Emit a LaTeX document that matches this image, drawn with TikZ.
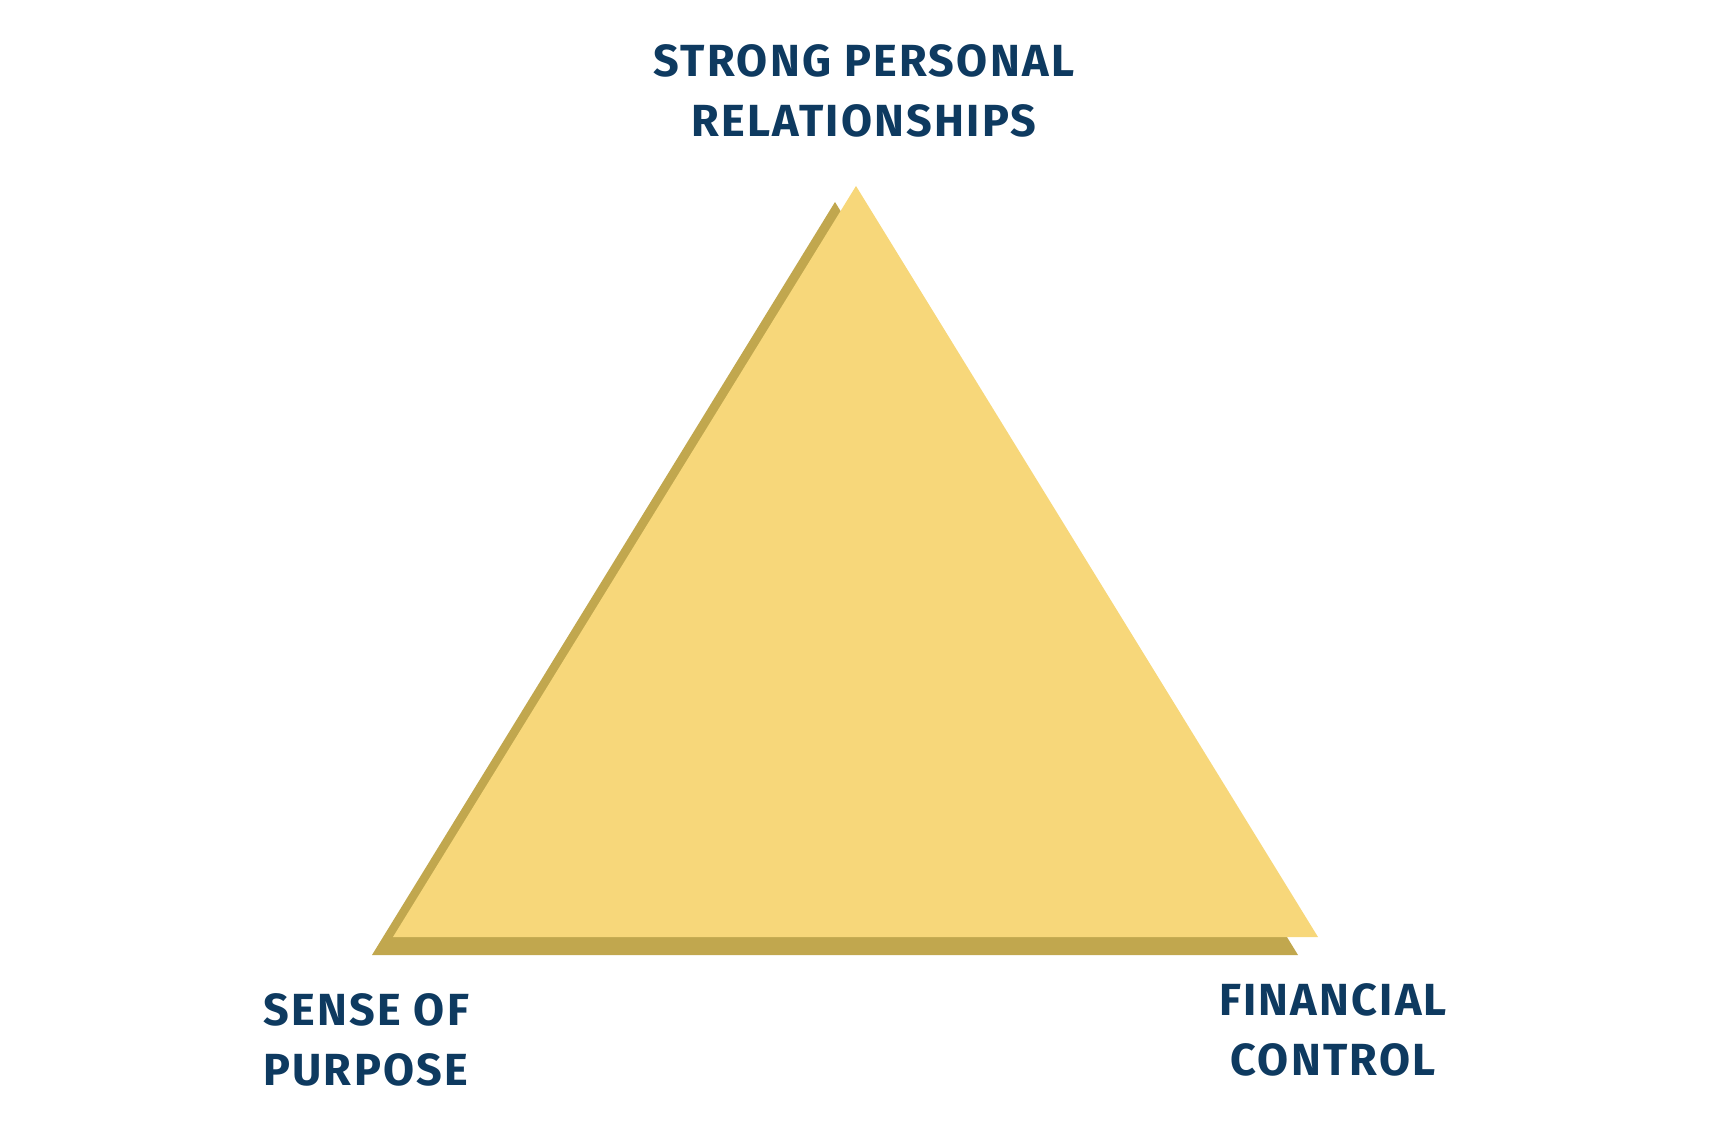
\documentclass[tikz,border=0pt]{standalone}
\usepackage{fontspec}
\setmainfont{Fira Sans}[BoldFont={Fira Sans Bold}, BoldFeatures={LetterSpace=5}]
\usepackage{tikz}
\definecolor{navy}{HTML}{0E3A60}
\definecolor{gold}{HTML}{F7D77A}
\definecolor{darkgold}{HTML}{C1A74E}

\begin{document}
\begin{tikzpicture}[x=1pt,y=-1pt,
	label/.style = {text=navy, font=\fontsize{45}{60}\selectfont\bfseries, inner sep=0pt, align=center}]
	\useasboundingbox (0,0) rectangle (1721,1139);
	% corners of the two triangles
	\coordinate (bl) at (372,955);
	\coordinate (br) at (1298,955);
	\coordinate (bt) at (835,202);
	\coordinate (fl) at (393,937);
	\coordinate (fr) at (1318,937);
	\coordinate (ft) at (856,186);
	\fill[darkgold] (bl)--(br)--(bt)--cycle;
	\fill[gold] (fl)--(fr)--(ft)--cycle;
	% labels
	\node[label, anchor=base] (top) at (864,137) {STRONG PERSONAL\\RELATIONSHIPS};
	\node[label, anchor=base west, align=left] (left) at (263,1085) {SENSE OF\\PURPOSE};
	\node[label, anchor=base] (right) at (1333,1075) {FINANCIAL\\CONTROL};
\end{tikzpicture}
\end{document}
